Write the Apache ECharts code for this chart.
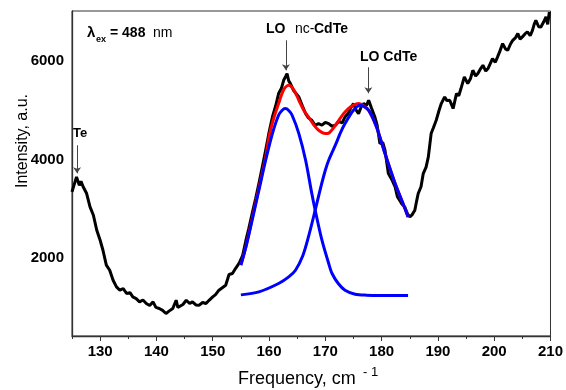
<!DOCTYPE html>
<html>
<head>
<meta charset="utf-8">
<script src="https://cdn.jsdelivr.net/npm/echarts@6/dist/echarts.min.js"></script>
<style>
  html, body { margin: 0; padding: 0; background: #fff; }
  #chart { width: 566px; height: 390px; }
</style>
</head>
<body>
<div id="chart"></div>
<script>
// measured spectrum (black)
const specFreq = [125.0,125.4,125.8,126.3,126.6,127.0,127.6,128.2,128.8,129.4,130.0,130.5,131.1,131.7,132.3,132.9,133.5,134.1,134.7,135.3,135.8,136.4,137.0,137.6,138.2,138.8,139.4,139.9,140.5,141.1,141.7,142.3,142.9,143.5,143.8,144.1,144.7,145.3,145.9,146.4,147.0,147.6,148.2,148.8,149.4,150.0,150.5,151.1,151.7,152.3,152.9,153.5,154.1,154.7,155.3,155.9,156.4,157.0,157.6,158.2,158.8,159.4,160.0,160.6,161.2,161.7,162.2,162.6,163.0,163.2,163.5,163.8,164.4,165.3,165.9,166.5,167.0,167.6,168.2,168.8,169.4,170.0,170.6,171.2,171.8,172.4,173.0,173.5,174.1,174.5,175.0,175.5,175.9,176.4,176.8,177.3,177.7,178.2,178.8,179.2,179.7,180.2,180.6,181.2,181.8,182.4,182.8,183.2,183.6,184.1,184.6,185.0,185.4,185.9,186.2,186.5,187.0,187.4,187.9,188.3,188.8,189.2,189.7,190.2,190.6,191.2,191.6,192.1,192.7,193.3,193.7,194.1,194.7,195.3,195.8,196.2,196.7,197.1,197.6,198.0,198.5,198.9,199.3,199.7,200.2,200.6,201.0,201.5,202.0,202.4,202.9,203.3,203.8,204.2,204.6,205.0,205.5,205.9,206.4,206.8,207.1,207.4,207.9,208.3,208.8,209.2,209.5,209.8];
const specInt = [3346,3500,3650,3480,3560,3447,3313,3041,2873,2568,2365,2162,1858,1756,1553,1418,1350,1380,1283,1300,1214,1180,1113,1150,1080,1040,1113,1000,979,940,877,930,979,1147,1000,1011,1060,1147,1080,1113,1050,1046,1100,1080,1150,1214,1260,1350,1400,1450,1670,1689,1800,1900,2050,2365,2600,2907,3200,3516,3850,4192,4550,4868,5100,5343,5450,5613,5700,5749,5600,5546,5400,5275,5100,4937,4850,4801,4700,4734,4700,4760,4734,4680,4700,4780,4750,4868,4950,5050,5140,5000,4937,5080,5140,5100,5207,5050,4868,4700,4328,4350,4192,3719,3600,3447,3250,3177,3100,3041,2900,2838,2880,2974,3150,3313,3450,3719,3850,4057,4531,4650,4801,5000,5140,5275,5200,5207,5039,5343,5300,5445,5681,5546,5650,5816,5700,5749,5850,5918,5800,5851,5950,6054,5980,6088,6200,6358,6250,6222,6350,6425,6480,6561,6450,6493,6560,6595,6520,6628,6750,6831,6700,6696,6800,6899,6750,7000];

// fit components (blue) and their sum (red)
const ncFreq = [155.0,155.9,157.0,158.2,159.4,160.6,161.7,162.3,162.9,163.5,164.1,165.3,166.5,167.6,168.2,169.4,170.6,171.2,172.3,173.5,175.3,177.3,180.0,184.7];
const ncInt  = [1858,2229,2771,3380,3989,4531,4903,5000,5039,5000,4903,4531,3989,3313,2974,2365,1892,1689,1486,1350,1269,1249,1245,1245];

const bulkFreq = [155.0,158.2,161.7,163.5,164.7,166.0,167.0,168.2,169.1,170.0,170.6,171.8,172.7,173.5,175.0,176.2,177.7,179.1,180.6,182.4,183.8,184.7];
const bulkInt  = [1255,1316,1486,1620,1756,2050,2432,2974,3400,3786,3990,4300,4550,4734,5004,5106,5004,4666,4125,3516,3110,2838];

const sumFreq = [155.0,155.9,157.0,158.2,159.4,160.0,160.6,161.7,162.6,163.5,164.4,165.3,166.2,167.0,168.0,168.8,170.0,170.6,171.8,172.4,173.2,174.1,175.0,175.9,177.1,177.7,179.1,180.6,182.4,183.8,184.7];
const sumInt  = [1858,2240,2800,3420,4050,4463,4750,5140,5420,5512,5420,5207,5000,4868,4700,4598,4531,4540,4700,4801,4930,5039,5110,5140,5072,5004,4666,4125,3516,3110,2838];

const xLabels = [130,140,150,160,170,180,190,200,210];
const yLabels = [2000,4000,6000];

const pairs = (xs, ys) => xs.map((x, i) => [x, ys[i]]);

const myChart = echarts.init(document.getElementById('chart'));
const font = 'Liberation Sans, Arial, sans-serif';

myChart.setOption({
    animation: false,
    grid: { left: 72, right: 13, top: 11, bottom: 54, show: true, borderColor: '#333', borderWidth: 1 },
    xAxis: [
        {
            type: 'value', min: 125, max: 210, interval: 5,
            axisLine: { lineStyle: { color: '#333', width: 1.3 } },
            axisTick: { length: 3, lineStyle: { color: '#333' } },
            axisLabel: { customValues: xLabels, margin: 8, color: '#000', fontFamily: font, fontWeight: 'bold', fontSize: 15, formatter: v => String(v) },
            splitLine: { show: false }
        },
        {
            type: 'value', min: 125, max: 210, position: 'bottom',
            axisLine: { show: false },
            axisTick: { customValues: xLabels, length: 5, lineStyle: { color: '#333' } },
            axisLabel: { show: false },
            splitLine: { show: false }
        }
    ],
    yAxis: {
        type: 'value', min: 420, max: 7020,
        axisLine: { show: true, lineStyle: { color: '#333', width: 1.3 } },
        axisTick: { show: false },
        axisLabel: { customValues: yLabels, margin: 8, color: '#000', fontFamily: font, fontWeight: 'bold', fontSize: 15, formatter: v => String(v) },
        splitLine: { show: false }
    },
    series: [
        {
            type: 'line', data: pairs(specFreq, specInt), showSymbol: false,
            lineStyle: { color: '#000', width: 3 }, z: 2,
            markLine: {
                silent: true, symbol: ['none', 'arrow'], symbolSize: 6,
                label: { show: false },
                lineStyle: { color: '#444', width: 1, type: 'solid' },
                data: [
                    [{ coord: [125.9, 4294] }, { coord: [125.9, 3725] }],
                    [{ coord: [163.0, 6425] }, { coord: [163.0, 5816] }],
                    [{ coord: [177.65, 5877] }, { coord: [177.65, 5350] }]
                ]
            }
        },
        { type: 'line', data: pairs(sumFreq, sumInt), showSymbol: false, smooth: 0.3, lineStyle: { color: '#ff0000', width: 3 }, z: 3 },
        { type: 'line', data: pairs(ncFreq, ncInt), showSymbol: false, smooth: 0.3, lineStyle: { color: '#0000ff', width: 3 }, z: 4 },
        { type: 'line', data: pairs(bulkFreq, bulkInt), showSymbol: false, smooth: 0.3, lineStyle: { color: '#0000ff', width: 3 }, z: 4 }
    ],
    graphic: [
        // excitation wavelength
        { type: 'text', style: { x: 87, y: 33, text: 'λ', font: 'bold 15px ' + font, fill: '#000', verticalAlign: 'middle' } },
        { type: 'text', style: { x: 96, y: 40, text: 'ex', font: 'bold 9px ' + font, fill: '#000', verticalAlign: 'middle' } },
        { type: 'text', style: { x: 110, y: 33, text: '= 488', font: 'bold 14px ' + font, fill: '#000', verticalAlign: 'middle' } },
        { type: 'text', style: { x: 153, y: 33, text: 'nm', font: '14px ' + font, fill: '#000', verticalAlign: 'middle' } },
        // peak labels
        { type: 'text', style: { x: 73, y: 133, text: 'Te', font: 'bold 13px ' + font, fill: '#000', verticalAlign: 'middle' } },
        { type: 'text', style: { x: 266, y: 29, text: 'LO', font: 'bold 14px ' + font, fill: '#000', verticalAlign: 'middle' } },
        { type: 'text', style: { x: 295, y: 29, text: 'nc-', font: '14px ' + font, fill: '#000', verticalAlign: 'middle' } },
        { type: 'text', style: { x: 314, y: 29, text: 'CdTe', font: 'bold 14px ' + font, fill: '#000', verticalAlign: 'middle' } },
        { type: 'text', style: { x: 360, y: 57, text: 'LO CdTe', font: 'bold 14px ' + font, fill: '#000', verticalAlign: 'middle' } },
        // axis names
        { type: 'text', x: 23, y: 141, rotation: Math.PI / 2, style: { x: 0, y: 0, text: 'Intensity, a.u.', font: '16px ' + font, fill: '#000', align: 'center', verticalAlign: 'middle' } },
        { type: 'text', style: { x: 238, y: 379, text: 'Frequency, cm', font: '18px ' + font, fill: '#000', verticalAlign: 'middle' } },
        { type: 'text', style: { x: 363, y: 372, text: '- 1', font: '13px ' + font, fill: '#000', verticalAlign: 'middle' } }
    ]
});
</script>
</body>
</html>
